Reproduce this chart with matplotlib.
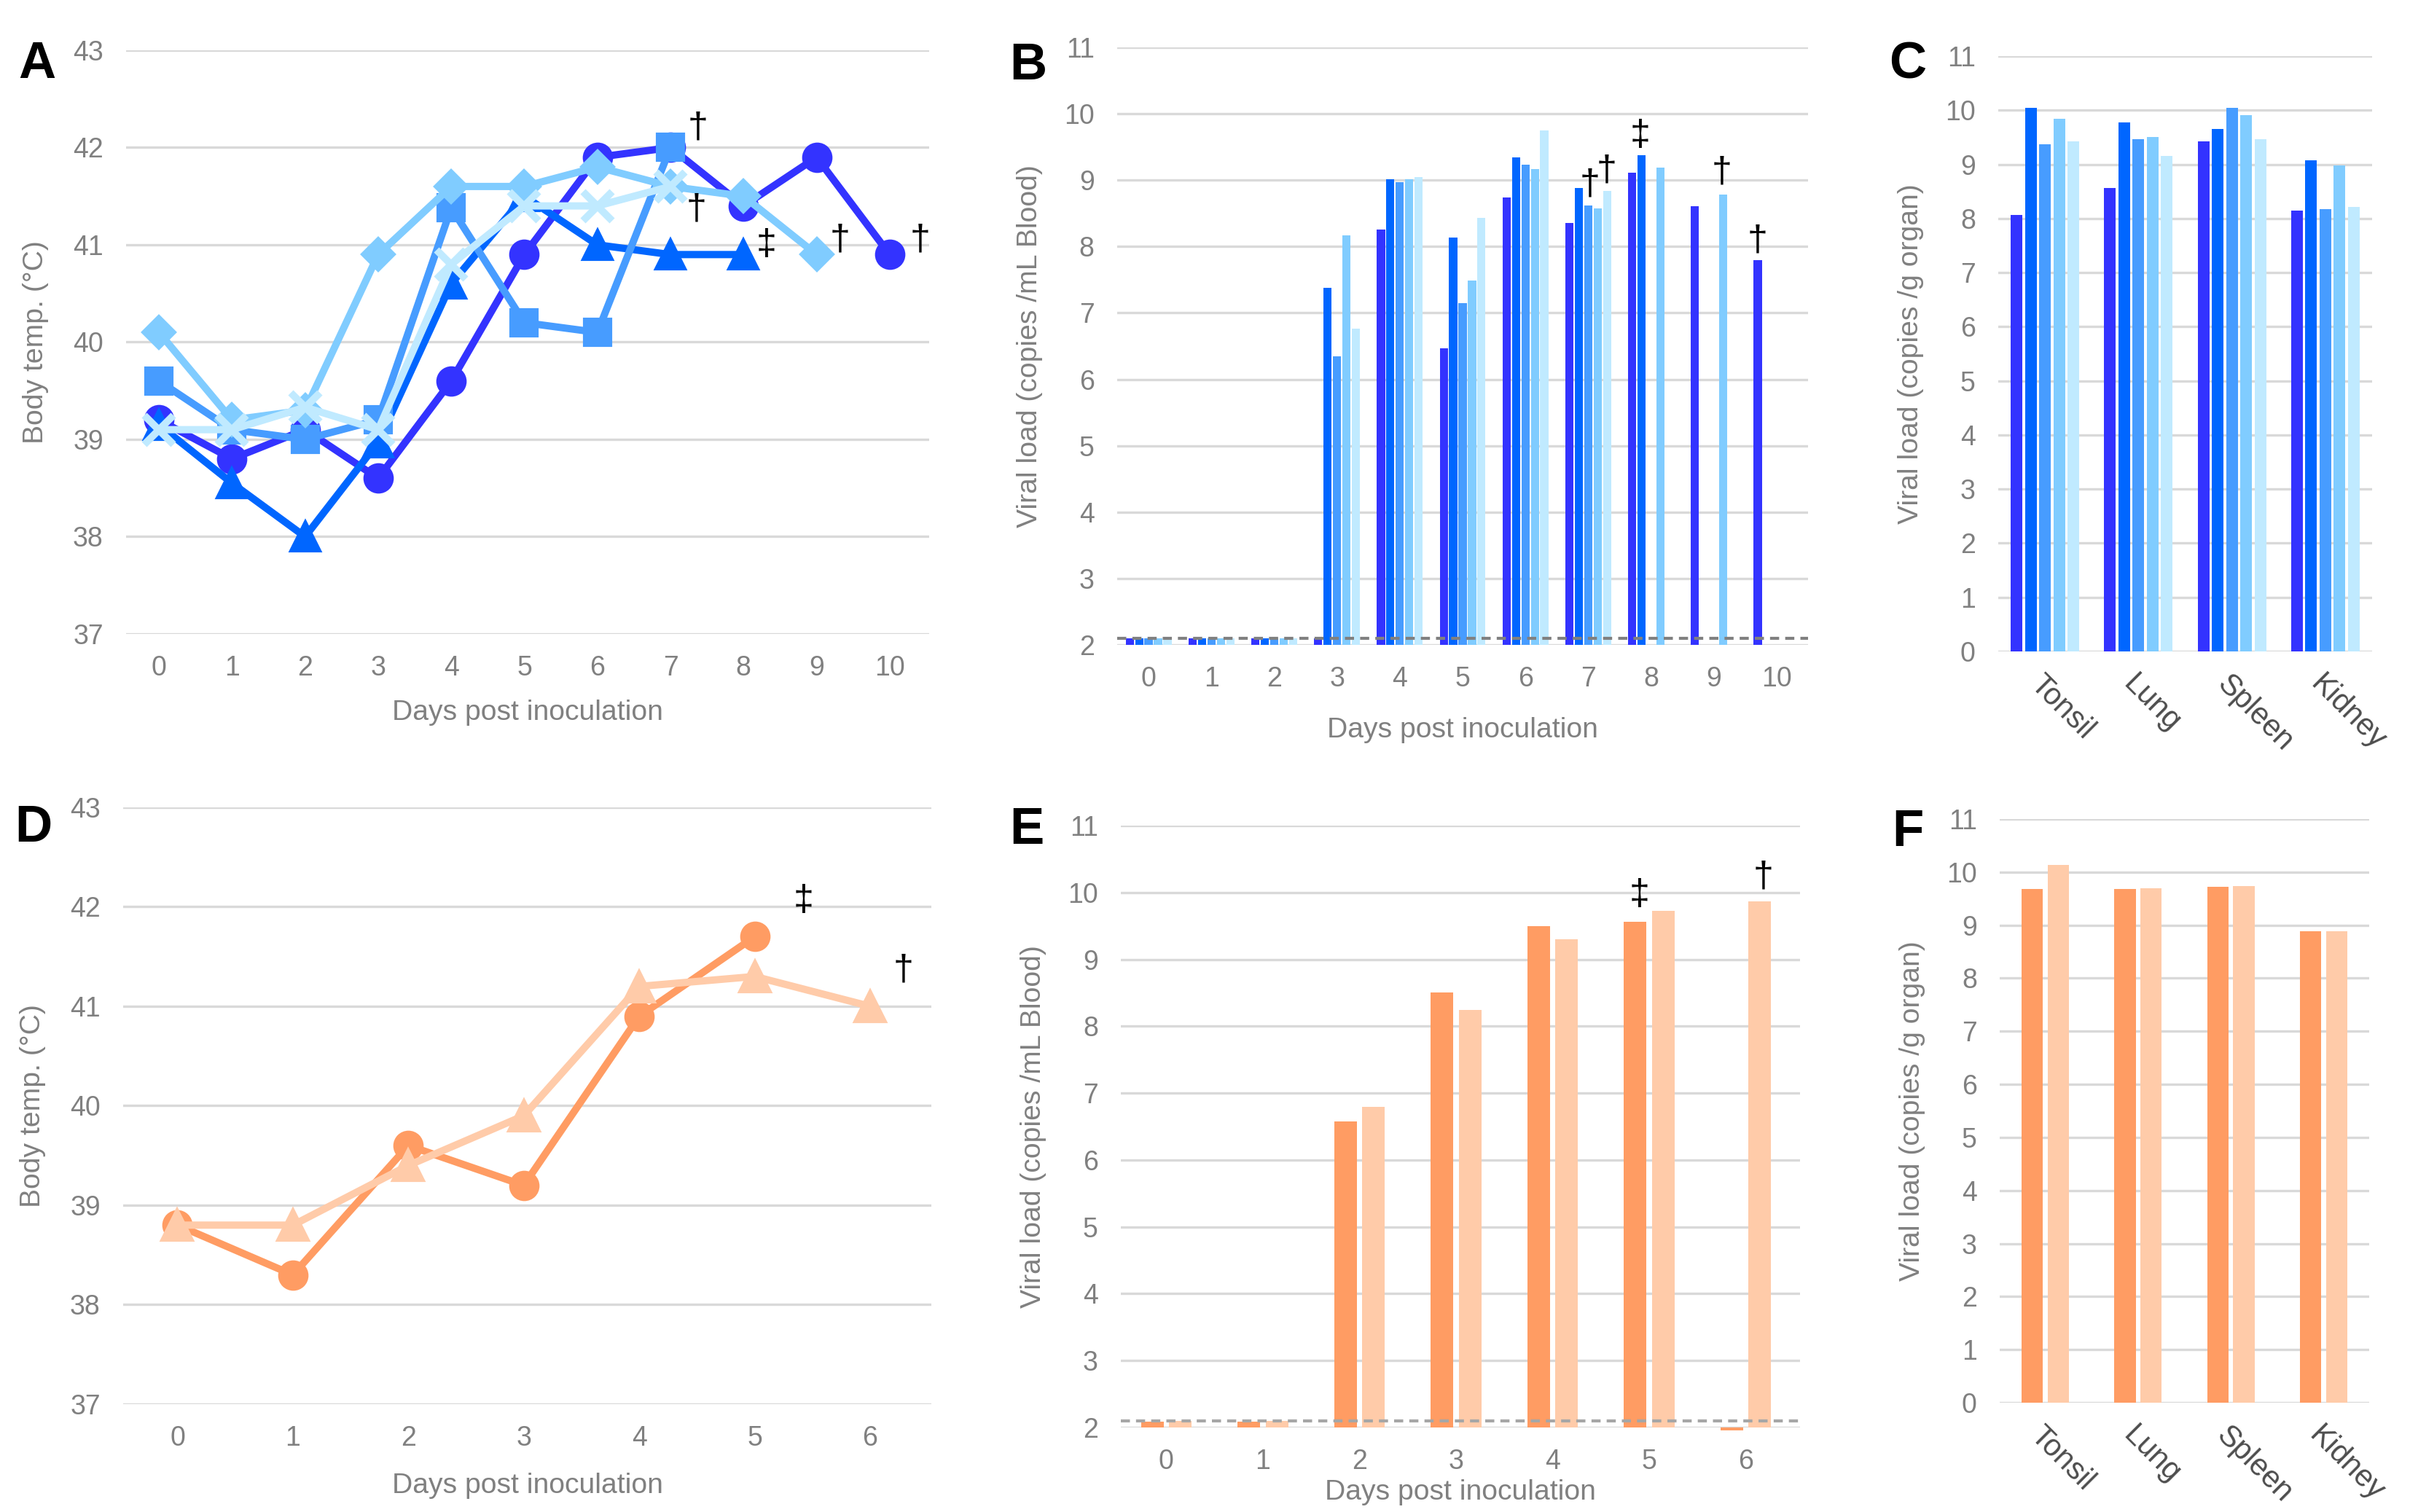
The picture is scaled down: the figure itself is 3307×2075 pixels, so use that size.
import numpy as np
import matplotlib
matplotlib.use("Agg")
import matplotlib.pyplot as plt

plt.rcParams["font.family"] = ["Liberation Sans", "DejaVu Sans"]

W, H = 3307, 2075
DPI = 300

BLUES = ["#3333FF", "#0066FF", "#479CFF", "#80CCFF", "#C0EAFF"]
ORANGES = ["#FF9C63", "#FFCBA9"]
TICK_GRAY = "#808080"
GRID = "#D9D9D9"
nan = np.nan

# ---- Panel A: body temperature, 5 animals
days_a = list(range(11))
temp_a1 = [39.2, 38.8, 39.1, 38.6, 39.6, 40.9, 41.9, 42.0, 41.4, 41.9, 40.9]
temp_a2 = [39.15, 38.55, 38.0, 38.97, 40.6, 41.5, 41.0, 40.9, 40.9]
temp_a3 = [39.6, 39.1, 39.0, 39.2, 41.38, 40.2, 40.1, 42.0]
temp_a4 = [40.1, 39.2, 39.3, 40.9, 41.6, 41.6, 41.8, 41.6, 41.5, 40.9]
temp_a5 = [39.1, 39.1, 39.33, 39.1, 40.8, 41.4, 41.4, 41.6]

# ---- Panel B: viral load in blood, 5 animals
days_b = list(range(11))
blood_b1 = [2.1, 2.1, 2.1, 2.1, 8.26, 6.47, 8.74, 8.36, 9.11, 8.61, 7.79]
blood_b2 = [2.1, 2.1, 2.1, 7.38, 9.01, 8.14, 9.34, 8.88, 9.38, nan, nan]
blood_b3 = [2.1, 2.1, 2.1, 6.35, 8.97, 7.15, 9.23, 8.62, nan, nan, nan]
blood_b4 = [2.1, 2.1, 2.1, 8.17, 9.01, 7.49, 9.17, 8.57, 9.19, 8.78, nan]
blood_b5 = [2.1, 2.1, 2.1, 6.76, 9.05, 8.43, 9.75, 8.84, nan, nan, nan]
detect_limit = 2.1

# ---- Panel C: viral load in organs, 5 animals
organs = ["Tonsil", "Lung", "Spleen", "Kidney"]
organ_c1 = [8.07, 8.56, 9.43, 8.14]
organ_c2 = [10.05, 9.77, 9.65, 9.07]
organ_c3 = [9.37, 9.47, 10.04, 8.17]
organ_c4 = [9.84, 9.50, 9.91, 8.98]
organ_c5 = [9.42, 9.15, 9.47, 8.21]

# ---- Panel D: body temperature, 2 animals
days_d = list(range(7))
temp_d1 = [38.8, 38.3, 39.6, 39.2, 40.9, 41.7]
temp_d2 = [38.8, 38.8, 39.4, 39.9, 41.2, 41.3, 41.0]

# ---- Panel E: viral load in blood, 2 animals
days_e = list(range(7))
blood_e1 = [2.09, 2.09, 6.58, 8.51, 9.50, 9.56, 1.96]
blood_e2 = [2.1, 2.1, 6.79, 8.24, 9.30, 9.72, 9.87]

# ---- Panel F: viral load in organs, 2 animals
organ_f1 = [9.68, 9.68, 9.72, 8.89]
organ_f2 = [10.14, 9.69, 9.74, 8.89]

# death marks (x, y, symbol)
marks_a = [(7.37, 42.2, "†"), (7.35, 41.36, "†"), (8.31, 41.0, "‡"),
           (9.32, 41.05, "†"), (10.42, 41.05, "†")]
marks_b = [(7.02, 8.93, "†"), (7.29, 9.14, "†"), (7.83, 9.67, "‡"),
           (9.13, 9.12, "†"), (9.69, 8.09, "†")]
marks_d = [(5.42, 42.06, "‡"), (6.29, 41.36, "†")]
marks_e = [(4.90, 9.97, "‡"), (6.18, 10.23, "†")]


def px_axes(fig, left, right, top, bottom):
    return fig.add_axes([left / W, 1 - bottom / H, (right - left) / W, (bottom - top) / H])


def style(ax, ylim, yticks):
    ax.set_ylim(*ylim)
    ax.set_yticks(yticks)
    for s in ax.spines.values():
        s.set_visible(False)
    ax.grid(True, axis="y", color=GRID, linewidth=0.8)
    ax.set_axisbelow(True)
    ax.tick_params(length=0, labelsize=9, labelcolor=TICK_GRAY)
    ax.tick_params(axis="x", pad=7)
    ax.tick_params(axis="y", pad=7.5)


def marks(ax, items):
    for x, y, s in items:
        ax.text(x, y, s, ha="center", va="center", fontsize=12, color="black")


def panel_label(fig, x, y, s):
    fig.text(x / W, 1 - y / H, s, fontsize=17, fontweight="bold", ha="left", va="top")


fig = plt.figure(figsize=(W / DPI, H / DPI), dpi=DPI)

# A
ax = px_axes(fig, 173, 1275, 69, 870)
style(ax, (37, 43), range(37, 44))
series = [(temp_a1, "o", 9), (temp_a2, "^", 9.5), (temp_a3, "s", 8.5), (temp_a4, "D", 7.5), (temp_a5, "x", 9.5)]
for (vals, m, ms), c in zip(series, BLUES):
    ax.plot(days_a[:len(vals)], vals, color=c, marker=m, markersize=ms, lw=2.4,
            mec=c, mfc=c, mew=2.4 if m == "x" else 1)
ax.set_xlim(-0.45, 10.54)
ax.set_xticks(days_a)
ax.set_xlabel("Days post inoculation", fontsize=9.4, color=TICK_GRAY, labelpad=6)
ax.set_ylabel("Body temp. (°C)", fontsize=9.4, color=TICK_GRAY, labelpad=8)
marks(ax, marks_a)
panel_label(fig, 25, 56, "A")

# B
ax = px_axes(fig, 1533, 2481, 65, 885)
style(ax, (2, 11), range(2, 12))
x = np.arange(len(days_b))
for i, (vals, c) in enumerate(zip([blood_b1, blood_b2, blood_b3, blood_b4, blood_b5], BLUES)):
    v = np.array(vals)
    ax.bar(x + (i - 2) * 0.15, v - 2, bottom=2, width=0.13, color=c)
ax.axhline(detect_limit, color="#808080", lw=1.0, ls=(0, (3, 2)))
ax.set_xlim(-0.5, 10.5)
ax.set_xticks(x)
ax.set_xticklabels([str(d) for d in days_b])
ax.set_xlabel("Days post inoculation", fontsize=9.4, color=TICK_GRAY, labelpad=8)
ax.set_ylabel("Viral load (copies /mL Blood)", fontsize=9.4, color=TICK_GRAY, labelpad=7)
marks(ax, marks_b)
panel_label(fig, 1385, 58, "B")

# C
ax = px_axes(fig, 2742, 3255, 77, 894)
style(ax, (0, 11), range(0, 12))
x = np.arange(len(organs))
for i, (vals, c) in enumerate(zip([organ_c1, organ_c2, organ_c3, organ_c4, organ_c5], BLUES)):
    ax.bar(x + (i - 2) * 0.152, vals, width=0.125, color=c)
ax.set_xlim(-0.5, 3.5)
ax.set_xticks(x)
ax.set_xticklabels(organs, rotation=-45, ha="left", va="top", rotation_mode="anchor",
                   fontsize=10, color="#4D4D4D")
ax.tick_params(axis="x", pad=6)
ax.set_ylabel("Viral load (copies /g organ)", fontsize=9.4, color=TICK_GRAY, labelpad=7)
panel_label(fig, 2592, 57, "C")

# D
ax = px_axes(fig, 169, 1278, 1108, 1927)
style(ax, (37, 43), range(37, 44))
for (vals, m, ms), c in zip([(temp_d1, "o", 9), (temp_d2, "^", 10)], ORANGES):
    ax.plot(days_d[:len(vals)], vals, color=c, marker=m, markersize=ms, lw=2.4, mec=c, mfc=c)
ax.set_xlim(-0.47, 6.53)
ax.set_xticks(days_d)
ax.set_xlabel("Days post inoculation", fontsize=9.4, color=TICK_GRAY, labelpad=7)
ax.set_ylabel("Body temp. (°C)", fontsize=9.4, color=TICK_GRAY, labelpad=8)
marks(ax, marks_d)
panel_label(fig, 20, 1104, "D")

# E
ax = px_axes(fig, 1538, 2470, 1133, 1959)
style(ax, (2, 11), range(2, 12))
x = np.arange(len(days_e))
for i, (vals, c) in enumerate(zip([blood_e1, blood_e2], ORANGES)):
    v = np.array(vals)
    ax.bar(x + (i - 0.5) * 0.29, v - 2, bottom=2, width=0.234, color=c, clip_on=False)
ax.axhline(detect_limit, color="#A6A6A6", lw=1.0, ls=(0, (3, 2)))
ax.set_xlim(-0.47, 6.56)
ax.set_xticks(x)
ax.set_xlabel("Days post inoculation", fontsize=9.4, color=TICK_GRAY, labelpad=1.5)
ax.set_ylabel("Viral load (copies /mL Blood)", fontsize=9.4, color=TICK_GRAY, labelpad=7)
marks(ax, marks_e)
panel_label(fig, 1385, 1107, "E")

# F
ax = px_axes(fig, 2744, 3251, 1124, 1925)
style(ax, (0, 11), range(0, 12))
x = np.arange(len(organs))
for i, (vals, c) in enumerate(zip([organ_f1, organ_f2], ORANGES)):
    ax.bar(x + (i - 0.5) * 0.28, vals, width=0.23, color=c)
ax.set_xlim(-0.49, 3.49)
ax.set_xticks(x)
ax.set_xticklabels(organs, rotation=-45, ha="left", va="top", rotation_mode="anchor",
                   fontsize=10, color="#4D4D4D")
ax.tick_params(axis="x", pad=6)
ax.set_ylabel("Viral load (copies /g organ)", fontsize=9.4, color=TICK_GRAY, labelpad=7)
panel_label(fig, 2596, 1110, "F")

fig.savefig("out.png", dpi=DPI)
plt.close(fig)
